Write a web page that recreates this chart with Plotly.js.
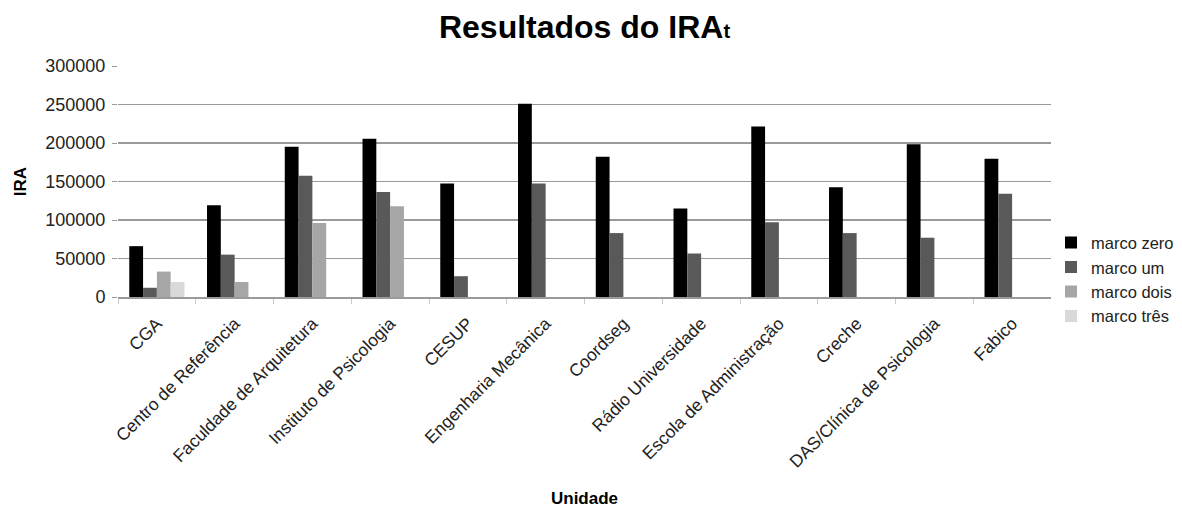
<!DOCTYPE html>
<html>
<head>
<meta charset="utf-8">
<script src="https://cdn.plot.ly/plotly-3.0.1.min.js"></script>
<style>html,body{margin:0;padding:0;background:#fff;}#chart{width:1182px;height:508px;}</style>
</head>
<body>
<div id="chart"></div>
<script>
const categories = ["CGA","Centro de Referência","Faculdade de Arquitetura","Instituto de Psicologia","CESUP","Engenharia Mecânica","Coordseg","Rádio Universidade","Escola de Administração","Creche","DAS/Clínica de Psicologia","Fabico"];
const marcoZero = [66000,119000,195000,205500,147500,251000,182000,115000,221500,142500,198500,179500];
const marcoUm   = [12000,55000,157500,136500,27000,147500,83000,56500,97000,83000,77000,134000];
const marcoDois = [33000,19500,96000,118000,null,null,null,null,null,null,null,null];
const marcoTres = [19500,null,null,null,null,null,null,null,null,null,null,null];
const seriesNames = ["marco zero","marco um","marco dois","marco três"];
const seriesColors = ["#000000","#595959","#a6a6a6","#d9d9d9"];
const seriesValues = [marcoZero, marcoUm, marcoDois, marcoTres];

const traces = seriesValues.map((vals, i) => ({
  type: "bar",
  name: seriesNames[i],
  x: categories,
  y: vals,
  marker: {color: seriesColors[i]}
}));

const layout = {
  width: 1182, height: 508,
  margin: {l: 118, r: 131, t: 66, b: 211, autoexpand: false},
  paper_bgcolor: "#fff", plot_bgcolor: "#fff",
  font: {family: "Liberation Sans, Arial, sans-serif", size: 15, color: "#222"},
  title: {text: "<b>Resultados do IRA<span style=\"font-size:20px\">t</span></b>", font: {size: 32, color: "#000"}, x: 0.5, xanchor: "center", y: 0.947, yanchor: "middle", xref: "paper"},
  barmode: "group",
  bargap: 0.29,
  bargroupgap: 0,
  xaxis: {
    type: "category",
    tickangle: -45,
    tickfont: {size: 17.5, color: "#222"},
    ticklabelstandoff: 8,
    showline: true, linecolor: "#9a9a9a", linewidth: 1.5,
    ticks: "outside", tickson: "boundaries", ticklen: 5, tickcolor: "#c8c8c8",
    showgrid: false,
    title: {text: "<b>Unidade</b>", font: {size: 17, color: "#000"}, standoff: 26}
  },
  yaxis: {
    range: [0, 300000],
    dtick: 50000,
    tickformat: "d",
    showgrid: true, gridcolor: "#9a9a9a", gridwidth: 1.3,
    zeroline: false,
    ticks: "outside", ticklen: 5, tickcolor: "#9a9a9a",
    ticklabelstandoff: 3,
    tickfont: {size: 18, color: "#222"},
    title: {text: "<b>IRA</b>", font: {size: 17, color: "#000"}, standoff: 14}
  },
  legend: {
    x: 1.0, xanchor: "left", y: 0.31, yanchor: "top",
    font: {size: 16.5, color: "#222"},
    itemwidth: 30,
    tracegroupgap: 0
  },
  showlegend: true
};

Plotly.newPlot("chart", traces, layout, {displayModeBar: false, staticPlot: true});
</script>
</body>
</html>
